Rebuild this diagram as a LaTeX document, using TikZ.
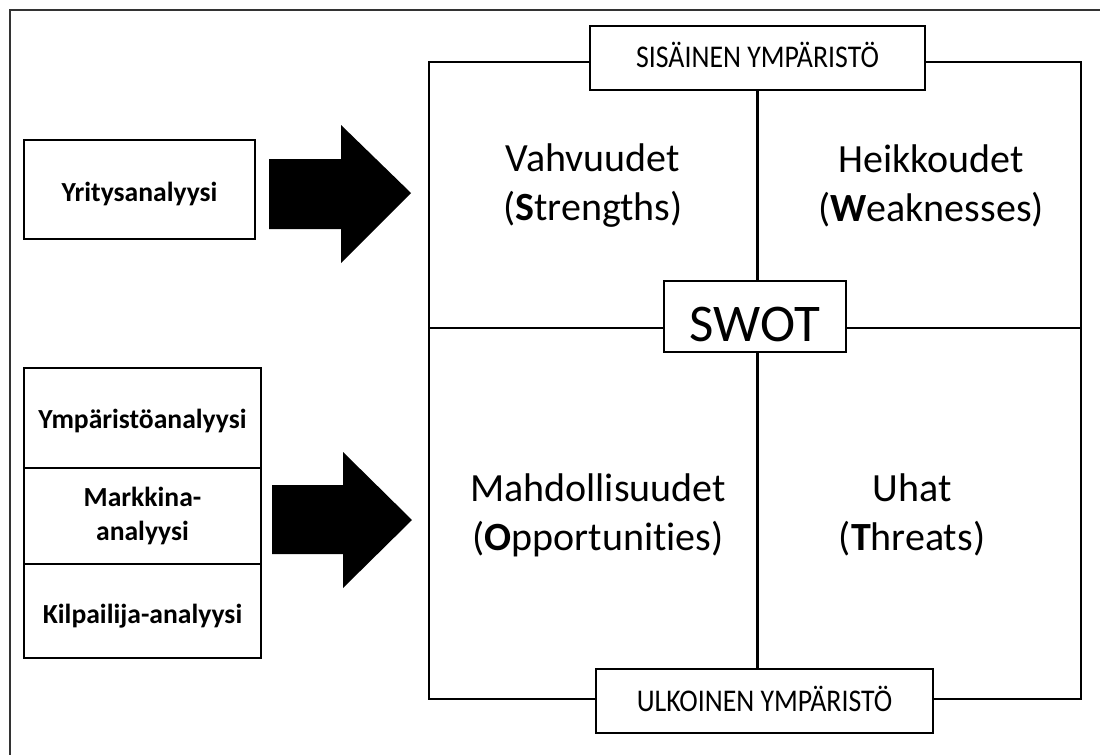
\documentclass[tikz,border=0pt]{standalone}
\usepackage{fontspec}
\setmainfont{Carlito}[Ligatures=NoCommon]
\newfontfamily\envfont{Carlito}[FakeStretch=0.88]
\usetikzlibrary{positioning}

\begin{document}
\begin{tikzpicture}[x=0.5pt, y=-0.5pt,
  box/.style={draw, line width=0.9pt, inner sep=0pt, outer sep=0pt, fill=white},
  envbox/.style={box, minimum width=167.5pt, minimum height=32pt, font=\envfont\fontsize{15.8}{19}\selectfont, text height=10pt, text depth=0pt},
  anbox/.style={box, minimum width=118.5pt, font=\bfseries\fontsize{13.8}{16.6}\selectfont, align=center},
  quad/.style={font=\fontsize{20}{24.5}\selectfont, align=center},
  frame/.style={line width=1pt},
  axis/.style={line width=1.3pt},
  bigarrow/.style={fill=black}]
\useasboundingbox (0,0) rectangle (1100,755);
\draw[line width=0.8pt, black!80] (1100,10) -- (10,10) -- (10,755);

% sisainen / ulkoinen
\node[envbox] (sis) at (757.5,58) {SISÄINEN YMPÄRISTÖ};
\node[envbox, minimum width=168.5pt] (ulk) at (764.5,701) {ULKOINEN YMPÄRISTÖ};
\node[box, minimum width=91pt, minimum height=35.5pt, font=\fontsize{26.5}{32}\selectfont, text height=25pt, text depth=0pt] (swot) at (755,316.5) {SWOT};

\coordinate (qtl) at (429,62);
\coordinate (qtr) at (1081,62);
\coordinate (qbr) at (1081,699);
\coordinate (qbl) at (429,699);
\coordinate (hl) at (429,328);
\coordinate (hr) at (1081,328);
\draw[frame] (sis.west |- qtl) -- (qtl) -- (qbl) -- (ulk.west |- qbl);
\draw[frame] (sis.east |- qtr) -- (qtr) -- (qbr) -- (ulk.east |- qbr);
\draw[axis] (sis.south) -- (sis.south |- swot.north);
\draw[axis] (sis.south |- swot.south) -- (sis.south |- ulk.north);
\draw[axis] (hl) -- (hl -| swot.west);
\draw[axis] (hr -| swot.east) -- (hr);

% nelikentta
\node[quad] (str) at (593,186) {Vahvuudet\\(\textbf{S}trengths)};
\node[quad] (wea) at (931,186) {Heikkoudet\\(\textbf{W}eaknesses)};
\node[quad] (opp) at (598,515) {Mahdollisuudet\\(\textbf{O}pportunities)};
\node[quad] (thr) at (912,515) {Uhat\\(\textbf{T}hreats)};

% analyysit
\node[anbox, minimum width=115.5pt, minimum height=49.5pt, text height=11.5pt, text depth=0pt] (yrit) at (139.5,189.5) {Yritysanalyysi};
\node[anbox, minimum height=50pt, text height=10pt, text depth=0pt] (ymp) at (142.5,418) {Ympäristöanalyysi};
\node[anbox, minimum height=48pt, below=0pt of ymp] (mark) {Markkina-\\analyysi};
\node[anbox, minimum height=47pt, text height=12pt, text depth=0pt, below=0pt of mark] (kilp) {Kilpailija-analyysi};

\fill[bigarrow] (269,159) -- (341,159) -- (341,125) -- (411,193) -- (341,263) -- (341,229) -- (269,229) -- cycle;
\fill[bigarrow] (272,485) -- (343,485) -- (343,452) -- (412,520) -- (343,588) -- (343,554) -- (272,554) -- cycle;

\end{tikzpicture}
\end{document}
